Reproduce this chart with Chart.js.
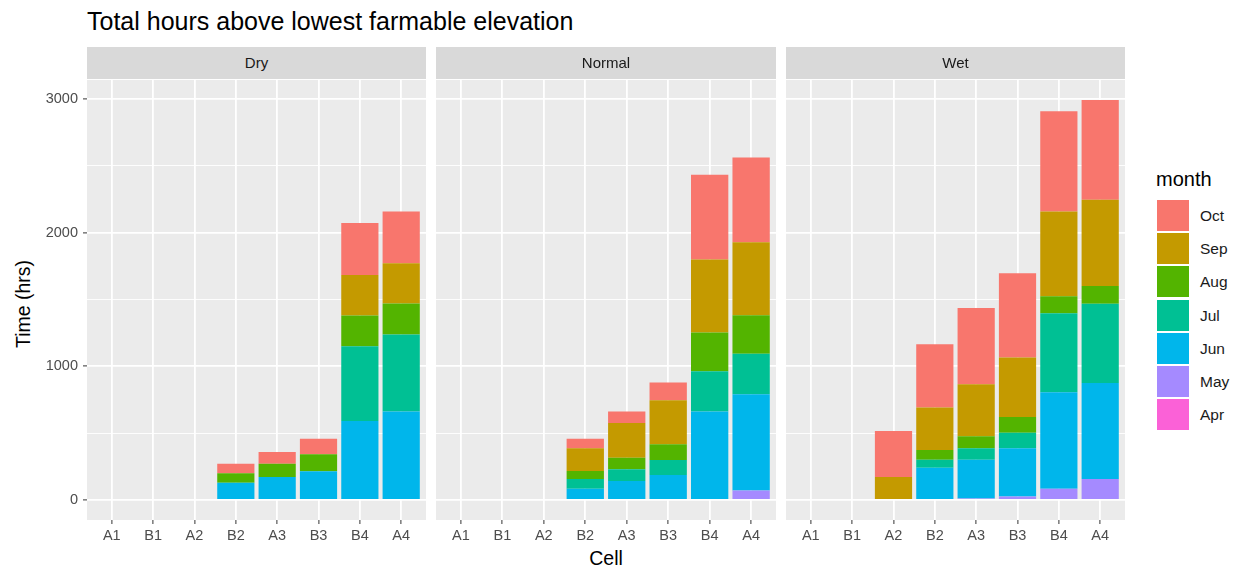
<!DOCTYPE html>
<html>
<head>
<meta charset="utf-8">
<script src="https://cdn.jsdelivr.net/npm/chart.js@4/dist/chart.umd.min.js"></script>
<style>
  html, body { margin: 0; padding: 0; background: #ffffff; }
  body { width: 1241px; height: 568px; position: relative; overflow: hidden; font-family: "Liberation Sans", Arial, sans-serif; }
  canvas { position: absolute; left: 0; top: 0; }
  .abs { position: absolute; white-space: nowrap; }
  .strip { position: absolute; background: #D9D9D9; color: #1A1A1A; font-size: 15px; text-align: center; }
</style>
</head>
<body>
<div class="abs" id="title" style="left:87px; top:21px; font-size:25px; line-height:28px; color:#000; transform: translateY(-50%);">Total hours above lowest farmable elevation</div>
<div class="abs" id="ytitle" style="left:23px; top:304px; font-size:19.5px; color:#000; transform: translate(-50%,-50%) rotate(-90deg);">Time (hrs)</div>
<div class="abs" id="xtitle" style="left:606px; top:558px; font-size:19.5px; color:#000; transform: translate(-50%,-50%);">Cell</div>
<div id="legend"></div>
<canvas id="c0" width="1241" height="568"></canvas>
<canvas id="c1" width="1241" height="568"></canvas>
<canvas id="c2" width="1241" height="568"></canvas>
<script>
// ---------- data ----------
const categories = ['A1', 'B1', 'A2', 'B2', 'A3', 'B3', 'B4', 'A4'];
const facets = ['Dry', 'Normal', 'Wet'];
const months = ['Apr', 'May', 'Jun', 'Jul', 'Aug', 'Sep', 'Oct'];
const monthColors = ['#FB61D7', '#A58AFF', '#00B6EB', '#00C094', '#53B400', '#C49A00', '#F8766D'];
const yTickValues = [0, 500, 1000, 1500, 2000, 2500, 3000];

const dryApr = [0, 0, 0, 0, 0, 0, 0, 0];
const dryMay = [0, 0, 0, 0, 0, 0, 0, 0];
const dryJun = [0, 0, 0, 130, 172, 215, 592, 662];
const dryJul = [0, 0, 0, 0, 0, 0, 559, 576];
const dryAug = [0, 0, 0, 70, 100, 127, 230, 232];
const drySep = [0, 0, 0, 0, 0, 0, 304, 303];
const dryOct = [0, 0, 0, 72, 88, 117, 388, 387];

const normalApr = [0, 0, 0, 0, 0, 0, 0, 0];
const normalMay = [0, 0, 0, 0, 0, 0, 0, 72];
const normalJun = [0, 0, 0, 85, 142, 187, 662, 720];
const normalJul = [0, 0, 0, 72, 88, 113, 302, 302];
const normalAug = [0, 0, 0, 60, 87, 117, 289, 289];
const normalSep = [0, 0, 0, 170, 260, 330, 547, 547];
const normalOct = [0, 0, 0, 72, 85, 132, 634, 634];

const wetApr = [0, 0, 0, 0, 0, 0, 0, 0];
const wetMay = [0, 0, 0, 0, 12, 27, 85, 157];
const wetJun = [0, 0, 0, 242, 290, 360, 722, 719];
const wetJul = [0, 0, 0, 60, 85, 117, 591, 592];
const wetAug = [0, 0, 0, 73, 90, 118, 128, 133];
const wetSep = [0, 0, 172, 317, 390, 444, 634, 646];
const wetOct = [0, 0, 345, 474, 571, 632, 749, 747];

const facetData = [
  [dryApr, dryMay, dryJun, dryJul, dryAug, drySep, dryOct],
  [normalApr, normalMay, normalJun, normalJul, normalAug, normalSep, normalOct],
  [wetApr, wetMay, wetJun, wetJul, wetAug, wetSep, wetOct]
];

// ---------- layout ----------
const W = 1241, H = 568;
const panels = [[87, 426], [436, 776], [786, 1125]];
const panelTop = 80, panelBottom = 520;
const yAxisW = 44, xAxisH = 28;
const yMin = -149.7, yMax = 3143.7;
const FONT = '"Liberation Sans", Arial, sans-serif';

// strips
panels.forEach((p, i) => {
  const d = document.createElement('div');
  d.className = 'strip';
  d.style.left = p[0] + 'px';
  d.style.top = '47px';
  d.style.width = (p[1] - p[0]) + 'px';
  d.style.height = '32px';
  d.style.lineHeight = '32px';
  d.textContent = facets[i];
  document.body.appendChild(d);
});

// legend
const legend = document.getElementById('legend');
const lt = document.createElement('div');
lt.className = 'abs';
lt.style.cssText = 'left:1156px; top:179px; font-size:20px; line-height:24px; color:#000; transform: translateY(-50%);';
lt.textContent = 'month';
legend.appendChild(lt);
const legOrder = months.slice().reverse();
const legColors = monthColors.slice().reverse();
legOrder.forEach((m, i) => {
  const top = 199 + i * 33.2;
  const k = document.createElement('div');
  k.className = 'abs';
  k.style.cssText = `left:1157px; top:${top + 1}px; width:32px; height:31px; background:${legColors[i]};`;
  legend.appendChild(k);
  const t = document.createElement('div');
  t.className = 'abs';
  t.style.cssText = `left:1200px; top:${top}px; height:33px; line-height:33px; font-size:15.5px; color:#1A1A1A;`;
  t.textContent = m;
  legend.appendChild(t);
});

// background plugin
const panelBg = {
  id: 'panelBg',
  beforeDraw(chart) {
    const a = chart.chartArea;
    const ctx = chart.ctx;
    ctx.save();
    ctx.fillStyle = '#EBEBEB';
    ctx.fillRect(a.left, a.top, a.right - a.left, a.bottom - a.top);
    ctx.restore();
  }
};

facetData.forEach((series, fi) => {
  const p = panels[fi];
  const showY = fi === 0;
  const datasets = months.map((m, mi) => ({
    label: m,
    data: series[mi].map((v, i) => ({ x: i, y: v })),
    backgroundColor: monthColors[mi],
    borderWidth: 0,
    barPercentage: 0.9,
    categoryPercentage: 1.0
  }));
  new Chart(document.getElementById('c' + fi), {
    type: 'bar',
    data: { datasets },
    plugins: [panelBg],
    options: {
      responsive: false,
      animation: false,
      devicePixelRatio: 1,
      layout: {
        padding: {
          left: p[0] - yAxisW,
          right: W - p[1],
          top: panelTop,
          bottom: H - panelBottom - xAxisH
        }
      },
      plugins: { legend: { display: false }, tooltip: { enabled: false }, title: { display: false } },
      scales: {
        x: {
          type: 'linear',
          stacked: true,
          offset: false,
          min: -0.6,
          max: 7.6,
          afterBuildTicks(scale) { scale.ticks = categories.map((c, i) => ({ value: i })); },
          afterFit(scale) { scale.height = xAxisH; },
          ticks: {
            autoSkip: false,
            maxRotation: 0,
            padding: 3,
            color: '#4D4D4D',
            font: { family: FONT, size: 14.5 },
            callback: (v) => categories[v] ?? ''
          },
          grid: {
            offset: false,
            color: '#FFFFFF',
            lineWidth: 1.8,
            drawTicks: true,
            tickLength: 4,
            tickColor: '#333333',
            tickWidth: 1
          },
          border: { display: false }
        },
        y: {
          stacked: true,
          min: yMin,
          max: yMax,
          afterBuildTicks(scale) { scale.ticks = yTickValues.map(v => ({ value: v })); },
          afterFit(scale) { scale.width = yAxisW; },
          ticks: {
            display: showY,
            padding: 5,
            color: '#4D4D4D',
            font: { family: FONT, size: 14.5 },
            callback: (v) => (v % 1000 === 0 ? String(v) : '')
          },
          grid: {
            color: '#FFFFFF',
            lineWidth: (ctx) => (ctx.tick && ctx.tick.value % 1000 === 0 ? 1.8 : 0.9),
            drawTicks: showY,
            tickLength: 4,
            tickColor: (ctx) => (ctx.tick && ctx.tick.value % 1000 === 0 ? '#333333' : 'rgba(0,0,0,0)'),
            tickWidth: 1
          },
          border: { display: false }
        }
      }
    }
  });
});
</script>
</body>
</html>
